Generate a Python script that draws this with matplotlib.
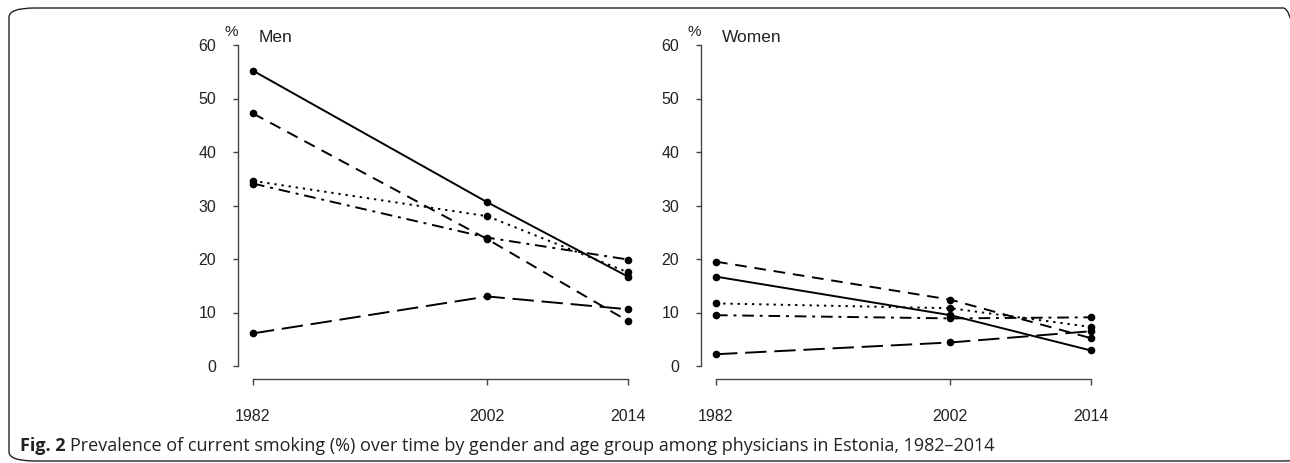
import matplotlib
matplotlib.use('Agg')
import matplotlib.pyplot as plt
from matplotlib.patches import FancyBboxPatch

years = [1982, 2002, 2014]
yticks = [0, 10, 20, 30, 40, 50, 60]

# men, five age groups (one line style each)
men_solid = [55.2, 30.6, 16.7]
men_dash = [47.2, 23.7, 8.4]
men_dot = [34.6, 28.0, 17.5]
men_dashdot = [34.1, 24.0, 19.9]
men_longdash = [6.1, 13.0, 10.6]

# women
women_solid = [16.7, 9.5, 2.9]
women_dash = [19.5, 12.4, 5.2]
women_dot = [11.7, 10.8, 7.3]
women_dashdot = [9.5, 8.9, 9.1]
women_longdash = [2.2, 4.4, 6.5]

dashes = [
    None,
    (6, 4),
    (1.2, 2.5),
    (6, 3, 1.5, 3),
    (11, 4),
]

plt.rcParams['font.family'] = ['Liberation Sans', 'DejaVu Sans']

fig = plt.figure(figsize=(12.9, 4.63), dpi=100)

W, H = 1290.0, 463.0
box = FancyBboxPatch((9 / W, 2 / H), 1300 / W, 453 / H,
                     boxstyle="round,pad=0,rounding_size=0.02",
                     transform=fig.transFigure, fill=False,
                     edgecolor='#222222', linewidth=1.0, clip_on=False)
fig.patches.append(box)


def panel(left_px, series, title):
    ax = fig.add_axes([left_px / W, (H - 366) / H, 393.5 / W, 321 / H])
    for vals, d in zip(series, dashes):
        line, = ax.plot(years, vals, color='black', lw=1.4, marker='o',
                        markersize=4.5, clip_on=False)
        if d is not None:
            line.set_dashes(d)
    ax.set_xlim(1980.72, 2014.3)
    ax.set_ylim(0, 60)
    ax.set_yticks(yticks)
    ax.set_xticks(years)
    for s in ['top', 'right']:
        ax.spines[s].set_visible(False)
    ax.spines['bottom'].set_position(('outward', 9.4))
    ax.spines['bottom'].set_bounds(1982, 2014)
    ax.spines['left'].set_bounds(0, 60)
    for s in ['bottom', 'left']:
        ax.spines[s].set_color('#444444')
        ax.spines[s].set_linewidth(1.0)
    ax.tick_params(axis='y', length=3.6, width=1.0, color='#444444',
                   pad=12, labelsize=11.5, labelcolor='#222222')
    ax.tick_params(axis='x', length=4.3, width=1.0, color='#444444',
                   pad=17.5, labelsize=11.5, labelcolor='#222222')
    ax.patch.set_alpha(0)
    fig.text((left_px - 7) / W, 1 - 32 / H, '%', fontsize=11,
             color='#222222', ha='center', va='center')
    fig.text((left_px + 21) / W, 1 - 38 / H, title, fontsize=12.5,
             color='#222222', ha='left', va='center')
    return ax


panel(238, [men_solid, men_dash, men_dot, men_dashdot, men_longdash], 'Men')
panel(701, [women_solid, women_dash, women_dot, women_dashdot, women_longdash], 'Women')

cap_fam = ['Open Sans', 'DejaVu Sans']
t1 = fig.text(20 / W, 1 - 446 / H, 'Fig. 2', fontsize=13, fontweight='bold',
              family=cap_fam, color='#222222', ha='left', va='center')
fig.canvas.draw()
bb = t1.get_window_extent()
fig.text((bb.x1 + 4) / W, 1 - 446 / H,
         'Prevalence of current smoking (%) over time by gender and age group '
         'among physicians in Estonia, 1982\u20132014',
         fontsize=13, family=cap_fam, color='#222222', ha='left', va='center')

fig.savefig('out.png', dpi=100)
